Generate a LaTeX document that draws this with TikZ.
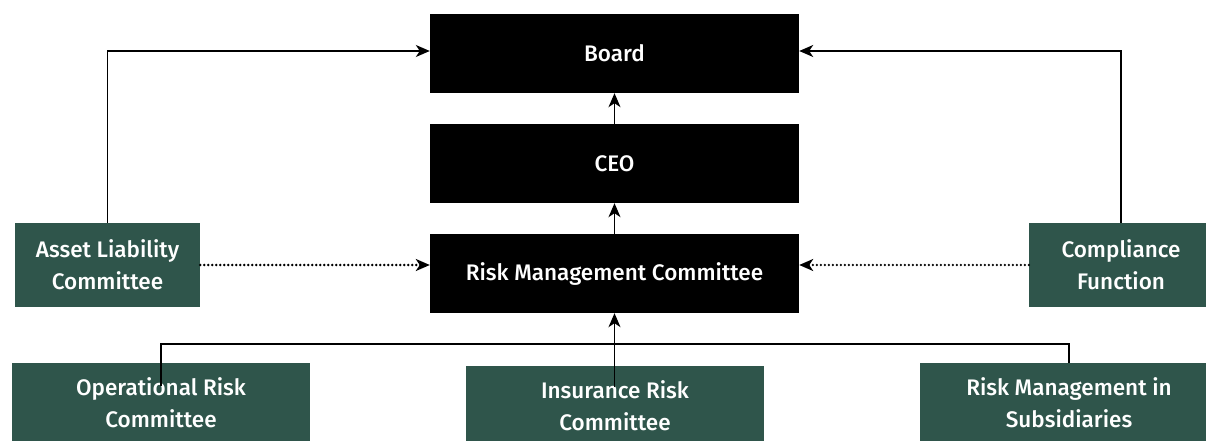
\documentclass[tikz,border=0pt]{standalone}
\usepackage{fontspec}
\setmainfont{Fira Sans}[UprightFont=* Medium]
\usetikzlibrary{arrows.meta}
\definecolor{boxgreen}{HTML}{2F554B}
\tikzset{
  boxfont/.style={font=\fontsize{22.5}{32}\selectfont},
  blackbox/.style={fill=black, text=white, minimum width=369pt, minimum height=79pt, inner sep=0pt, boxfont, align=center},
  greenbox/.style={fill=boxgreen, text=white, minimum height=84pt, inner sep=0pt, boxfont, align=center},
  lowbox/.style={fill=boxgreen, text=white, minimum width=298pt, minimum height=79pt, inner sep=0pt, boxfont, align=center},
  tip/.style={-{Stealth[length=14pt,width=12pt,inset=4pt]}},
  conn/.style={line width=1.3pt, tip},
  dotconn/.style={line width=2.6pt, line cap=round, dash pattern=on 0pt off 4pt, tip},
}
\begin{document}
\begin{tikzpicture}[x=1pt,y=-1pt]
\useasboundingbox (0,0) rectangle (1206,441);
\begin{scope}
\clip (0,0) rectangle (1206,441);
\node[blackbox] (board) at (614.5,53.5) {Board};
\node[blackbox] (ceo) at (614.5,163.5) {CEO};
\node[blackbox] (rmc) at (614.5,273.5) {Risk Management Committee};
\node[greenbox, minimum width=185pt] (alc) at (107.5,265) {Asset Liability\\Committee};
\node[greenbox, minimum width=184pt] (comp) at (1121,265) {Compliance\\Function};
\node[lowbox] (op) at (161,402.5) {Operational Risk\\Committee};
\node[lowbox] (ins) at (615,405.5) {Insurance Risk\\Committee};
\node[lowbox] (sub) at (1069,402.5) {Risk Management in\\Subsidiaries};
\coordinate (opin) at (161,386);
\coordinate (insin) at (614.5,387);
\coordinate (bus) at (614.5,344);

\draw[conn] (ceo) -- (board);
\draw[conn] (rmc) -- (ceo);
\draw[conn] (alc.north) |- (board.west |- 0,51);
\draw[conn] (comp.north) |- (board.east |- 0,51);
\draw[dotconn] (alc.east) -- (rmc.west |- alc.east);
\draw[dotconn] (comp.west) -- (rmc.east |- comp.west);
\draw[line width=1.3pt] (opin) -- (161,344) -- (bus);
\draw[line width=1.3pt] (sub.north) -- (1069,344) -- (bus);
\draw[conn] (insin) -- (rmc.south);
\end{scope}
\end{tikzpicture}
\end{document}
